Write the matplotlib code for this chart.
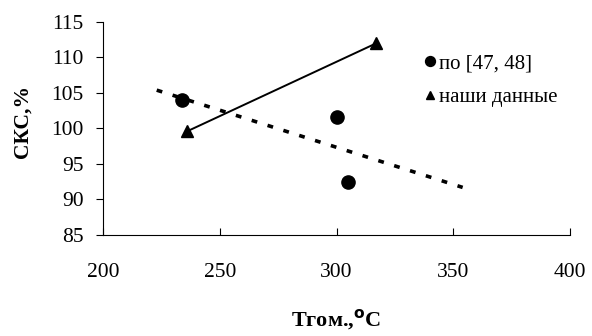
import matplotlib
matplotlib.use('Agg')
import matplotlib.pyplot as plt

# data
lit_t = [234, 300, 305]
lit_cks = [104.0, 101.6, 92.5]
our_t = [236, 317]
our_cks = [99.6, 112.0]
trend_t = [223, 354]
trend_cks = [105.4, 91.7]

plt.rcParams['font.family'] = ['Liberation Serif', 'DejaVu Serif']

fig = plt.figure(figsize=(5.92, 3.36), dpi=100)
ax = fig.add_axes([0.174, 0.3006, 0.789, 0.634])

ax.plot(trend_t, trend_cks, color='black', lw=2.6, dashes=(1.6, 3.0),
        solid_capstyle='butt', dash_capstyle='butt')
ax.plot(our_t, our_cks, color='black', lw=1.4)
ax.plot(lit_t, lit_cks, 'o', color='black', ms=9.5, ls='none',
        label='по [47, 48]')
ax.plot(our_t, our_cks, '^', color='black', ms=8, ls='none',
        label='наши данные')

ax.set_xlim(200, 400)
ax.set_ylim(85, 115)
ax.set_xticks([200, 250, 300, 350, 400])
ax.set_yticks([85, 90, 95, 100, 105, 110, 115])

for side in ('top', 'right'):
    ax.spines[side].set_visible(False)
for side in ('left', 'bottom'):
    ax.spines[side].set_linewidth(0.8)

ax.tick_params(axis='x', direction='in', length=5, width=0.8, pad=20,
               labelsize=15.5)
ax.tick_params(axis='y', direction='out', length=5, width=0.8, pad=9,
               labelsize=15.5)

ax.set_ylabel('СКС,%', fontsize=15.5, fontweight='bold')
ax.yaxis.set_label_coords(-0.15, 0.535)
fig.text(0.568, 0.03, 'Тгом.,$\\mathbf{^{o}}$C', fontsize=16,
         fontweight='bold', ha='center', va='baseline')

ax.legend(loc='upper left', bbox_to_anchor=(0.664, 0.9), frameon=False,
          fontsize=15, markerscale=0.75, handlelength=0.6,
          handletextpad=0.15, labelspacing=0.7, borderpad=0)

fig.savefig('out.png', dpi=100)
